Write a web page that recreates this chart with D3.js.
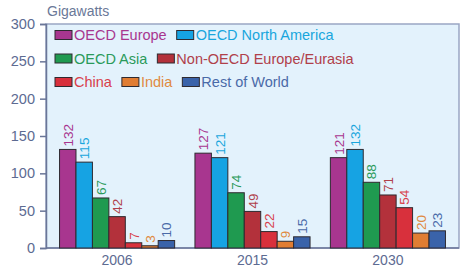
<!DOCTYPE html>
<html>
<head>
<meta charset="utf-8">
<script src="https://cdn.jsdelivr.net/npm/d3@7"></script>
<style>
  body { margin: 0; background: #fff; }
  svg { font-family: "Liberation Sans", Arial, sans-serif; }
</style>
</head>
<body>
<div id="chart"></div>
<script>
// data
const years = ["2006", "2015", "2030"];
const regions = ["OECD Europe", "OECD North America", "OECD Asia", "Non-OECD Europe/Eurasia", "China", "India", "Rest of World"];
const oecdEurope   = [132, 127, 121];
const oecdNorthAm  = [115, 121, 132];
const oecdAsia     = [67, 74, 88];
const nonOecdEur   = [42, 49, 71];
const china        = [7, 22, 54];
const india        = [3, 9, 20];
const restOfWorld  = [10, 15, 23];
const yTicks = [0, 50, 100, 150, 200, 250, 300];

const seriesValues = [oecdEurope, oecdNorthAm, oecdAsia, nonOecdEur, china, india, restOfWorld];
const fills = ["#a8368f", "#16a3e3", "#1f9a50", "#b3313b", "#d8303c", "#e07d33", "#3a63aa"];
const textColors = ["#a8368f", "#19a6dd", "#2a9a5a", "#b0404a", "#d8404a", "#e08a40", "#4a6aa8"];

const W = 473, H = 270;
const margin = {top: 24, right: 14, bottom: 22, left: 46};

const svg = d3.select("#chart").append("svg")
    .attr("width", W)
    .attr("height", H);

const x0 = d3.scaleBand()
    .domain(years)
    .range([margin.left, W - margin.right])
    .paddingInner(0.15)
    .paddingOuter(0.1);

const x1 = d3.scaleBand()
    .domain(d3.range(regions.length))
    .range([0, x0.bandwidth()]);

const y = d3.scaleLinear()
    .domain([0, 300])
    .range([H - margin.bottom, margin.top]);

// panel background
svg.append("rect")
    .attr("x", margin.left)
    .attr("y", y(300))
    .attr("width", W - margin.right - margin.left)
    .attr("height", y(0) - y(300))
    .attr("fill", "#e3f2fc")
    .attr("stroke", "#9aa6c4")
    .attr("stroke-width", 1.5);

// y axis
const yAxis = svg.append("g")
    .attr("transform", `translate(${margin.left},0)`)
    .call(d3.axisLeft(y).tickValues(yTicks).tickSize(6).tickPadding(5));
yAxis.select(".domain").attr("stroke", "#6a7698").attr("stroke-width", 1.5);
yAxis.selectAll(".tick line").attr("stroke", "#6a7698").attr("stroke-width", 1.5);
yAxis.selectAll(".tick text")
    .attr("fill", "#5d6b92")
    .attr("font-size", 14.5);

// baseline
svg.append("line")
    .attr("x1", margin.left).attr("x2", W - margin.right)
    .attr("y1", y(0)).attr("y2", y(0))
    .attr("stroke", "#6a7698").attr("stroke-width", 1.5);

// x labels
svg.append("g").selectAll("text")
    .data(years)
    .join("text")
    .attr("x", d => x0(d) + x0.bandwidth() / 2)
    .attr("y", H - 5)
    .attr("text-anchor", "middle")
    .attr("fill", "#5d6b92")
    .attr("font-size", 14)
    .text(d => d);

// unit label
svg.append("text")
    .attr("x", 47)
    .attr("y", 16)
    .attr("fill", "#6a7898")
    .attr("font-size", 14)
    .text("Gigawatts");

// bars
const groups = svg.append("g").selectAll("g")
    .data(years)
    .join("g")
    .attr("transform", d => `translate(${x0(d)},0)`);

groups.selectAll("rect")
    .data((yr, yi) => seriesValues.map((s, si) => ({si: si, v: s[yi]})))
    .join("rect")
    .attr("x", d => x1(d.si))
    .attr("y", d => y(d.v))
    .attr("width", x1.bandwidth())
    .attr("height", d => y(0) - y(d.v))
    .attr("fill", d => fills[d.si])
    .attr("stroke", "#2e2a30")
    .attr("stroke-width", 1);

// value labels, rotated
groups.selectAll("text")
    .data((yr, yi) => seriesValues.map((s, si) => ({si: si, v: s[yi]})))
    .join("text")
    .attr("transform", d => `translate(${x1(d.si) + x1.bandwidth() / 2 + 5},${y(d.v) - 3}) rotate(-90)`)
    .attr("fill", d => textColors[d.si])
    .attr("font-size", 13.5)
    .text(d => d.v);

// legend rows
const legendRows = [[0, 1], [2, 3], [4, 5, 6]];
const legend = svg.append("g");
legendRows.forEach((row, ri) => {
    let cx = 55;
    const cy = 35 + ri * 23.5;
    row.forEach(si => {
        legend.append("rect")
            .attr("x", cx)
            .attr("y", cy - 4.5)
            .attr("width", 17)
            .attr("height", 9)
            .attr("fill", fills[si])
            .attr("stroke", "#2e2a30")
            .attr("stroke-width", 1);
        const t = legend.append("text")
            .attr("x", cx + 19)
            .attr("y", cy + 5)
            .attr("fill", textColors[si])
            .attr("font-size", 14.5)
            .text(regions[si]);
        cx += 19 + t.node().getComputedTextLength() + 10;
    });
});
</script>
</body>
</html>
